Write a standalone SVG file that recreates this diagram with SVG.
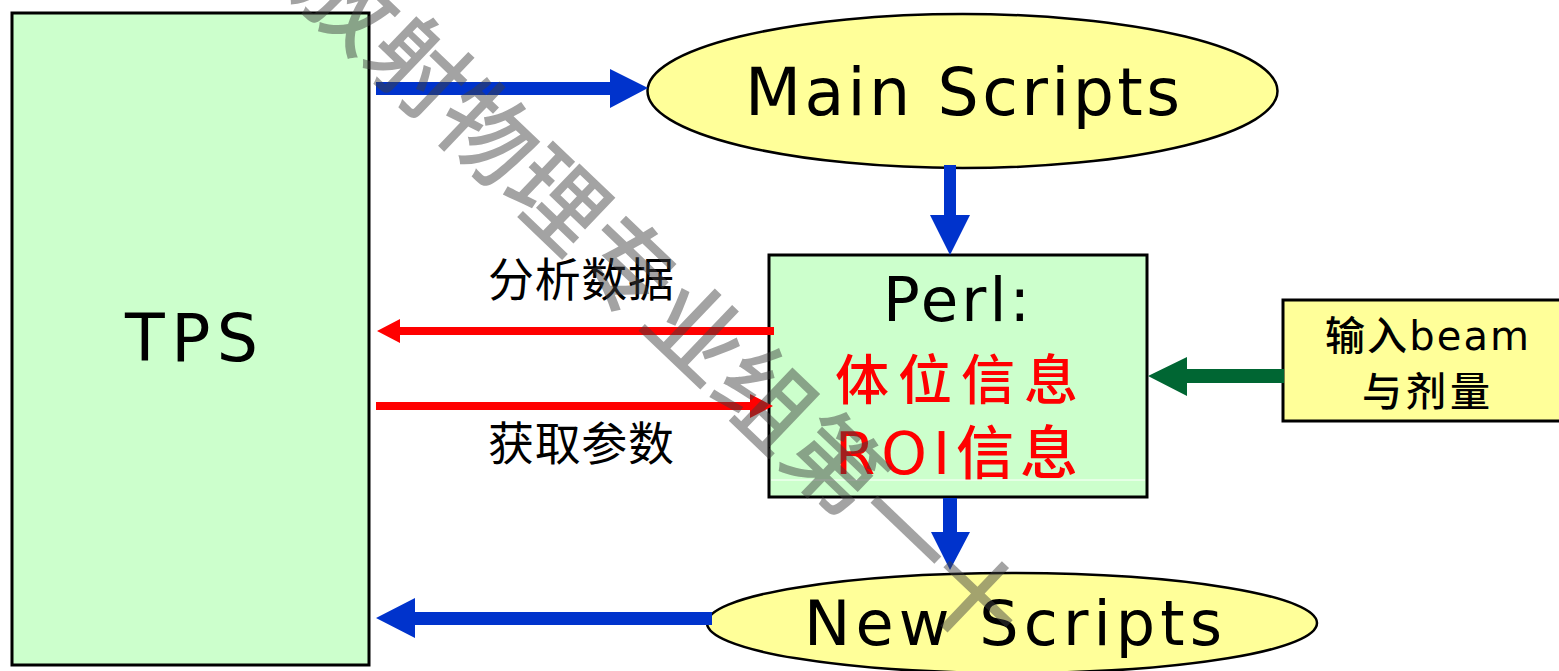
<svg xmlns="http://www.w3.org/2000/svg" width="1559" height="671" viewBox="0 0 1559 671">
<style>
.box{fill:#ccffcc;stroke:#000;stroke-width:3}
.ell{fill:#ffff99;stroke:#000;stroke-width:2.5}
.lat{font-family:"DejaVu Sans","Liberation Sans",sans-serif;fill:#000}
.cjk{font-family:"Noto Sans CJK SC",sans-serif;fill:#000}
.red{fill:#ff0000}
.blue{fill:#0033cc}
.rarr{fill:#ff0000}
.garr{fill:#006633}
.wm{font-family:"Noto Sans CJK SC",sans-serif;font-weight:500;fill:#404040;opacity:0.48}
</style>
<rect width="1559" height="671" fill="#fff"/>
<g id="tps">
<rect class="box" x="12" y="13" width="357" height="652"/>
<text class="lat" x="125" y="361" font-size="65" textLength="133" lengthAdjust="spacing">TPS</text>
</g>
<g id="main-scripts">
<ellipse class="ell" cx="962.5" cy="91" rx="315" ry="77"/>
<text class="lat" x="745" y="115" font-size="65" textLength="435" lengthAdjust="spacing">Main Scripts</text>
</g>
<g id="perl">
<rect class="box" x="769" y="255" width="378" height="242"/>
<line x1="771" y1="480" x2="1145" y2="480" stroke="#fff" stroke-width="1"/>
<text class="lat" x="883" y="321" font-size="61" textLength="147" lengthAdjust="spacing">Perl:</text>
<text class="cjk red" x="835" y="400" font-size="54" font-weight="500" textLength="243" lengthAdjust="spacing">体位信息</text>
<text class="cjk red" x="835" y="474" font-size="58" font-weight="500" textLength="243" lengthAdjust="spacing"><tspan font-family="DejaVu Sans, sans-serif" font-weight="normal">ROI</tspan>信息</text>
</g>
<g id="input-beam">
<rect x="1283" y="300" width="278" height="121" fill="#ffff99" stroke="#000" stroke-width="3"/>
<text class="cjk" x="1325" y="350" font-size="40" font-weight="500" textLength="204" lengthAdjust="spacing">输入<tspan font-family="DejaVu Sans, sans-serif" font-weight="normal">beam</tspan></text>
<text class="cjk" x="1362" y="406" font-size="40" font-weight="500" textLength="128" lengthAdjust="spacing">与剂量</text>
</g>
<g id="new-scripts">
<ellipse class="ell" cx="1012" cy="623" rx="305" ry="50"/>
<text class="lat" x="804" y="645" font-size="62" textLength="418" lengthAdjust="spacing">New Scripts</text>
</g>
<g id="connectors">
<path class="blue" d="M376,82 H610 V69 L648,88 L610,108 V95 H376 Z"/>
<path class="blue" d="M944,165 V215 H930 L950,255 L970,215 H956 V165 Z"/>
<path class="blue" d="M943,498 V532 H931 L950,570 L970,532 H957 V498 Z"/>
<path class="blue" d="M712,612 H415 V598 L376,618 L415,638 V625 H712 Z"/>
<path class="rarr" d="M774,327 H400 V319 L377,331 L400,343 V335 H774 Z"/>
<path class="rarr" d="M376,402 H750 V394 L773,406 L750,418 V410 H376 Z"/>
<path class="garr" d="M1284,369 H1187 V357 L1148,376 L1187,396 V383 H1284 Z"/>
</g>
<g id="labels">
<text class="cjk" x="488" y="296" font-size="46" textLength="186" lengthAdjust="spacing">分析数据</text>
<text class="cjk" x="488" y="460" font-size="46" textLength="186" lengthAdjust="spacing">获取参数</text>
</g>
<g id="watermark">
<text class="wm" transform="translate(290,-7) rotate(43.7)" font-size="96">放射物理专业组第一十</text>
</g>
</svg>
